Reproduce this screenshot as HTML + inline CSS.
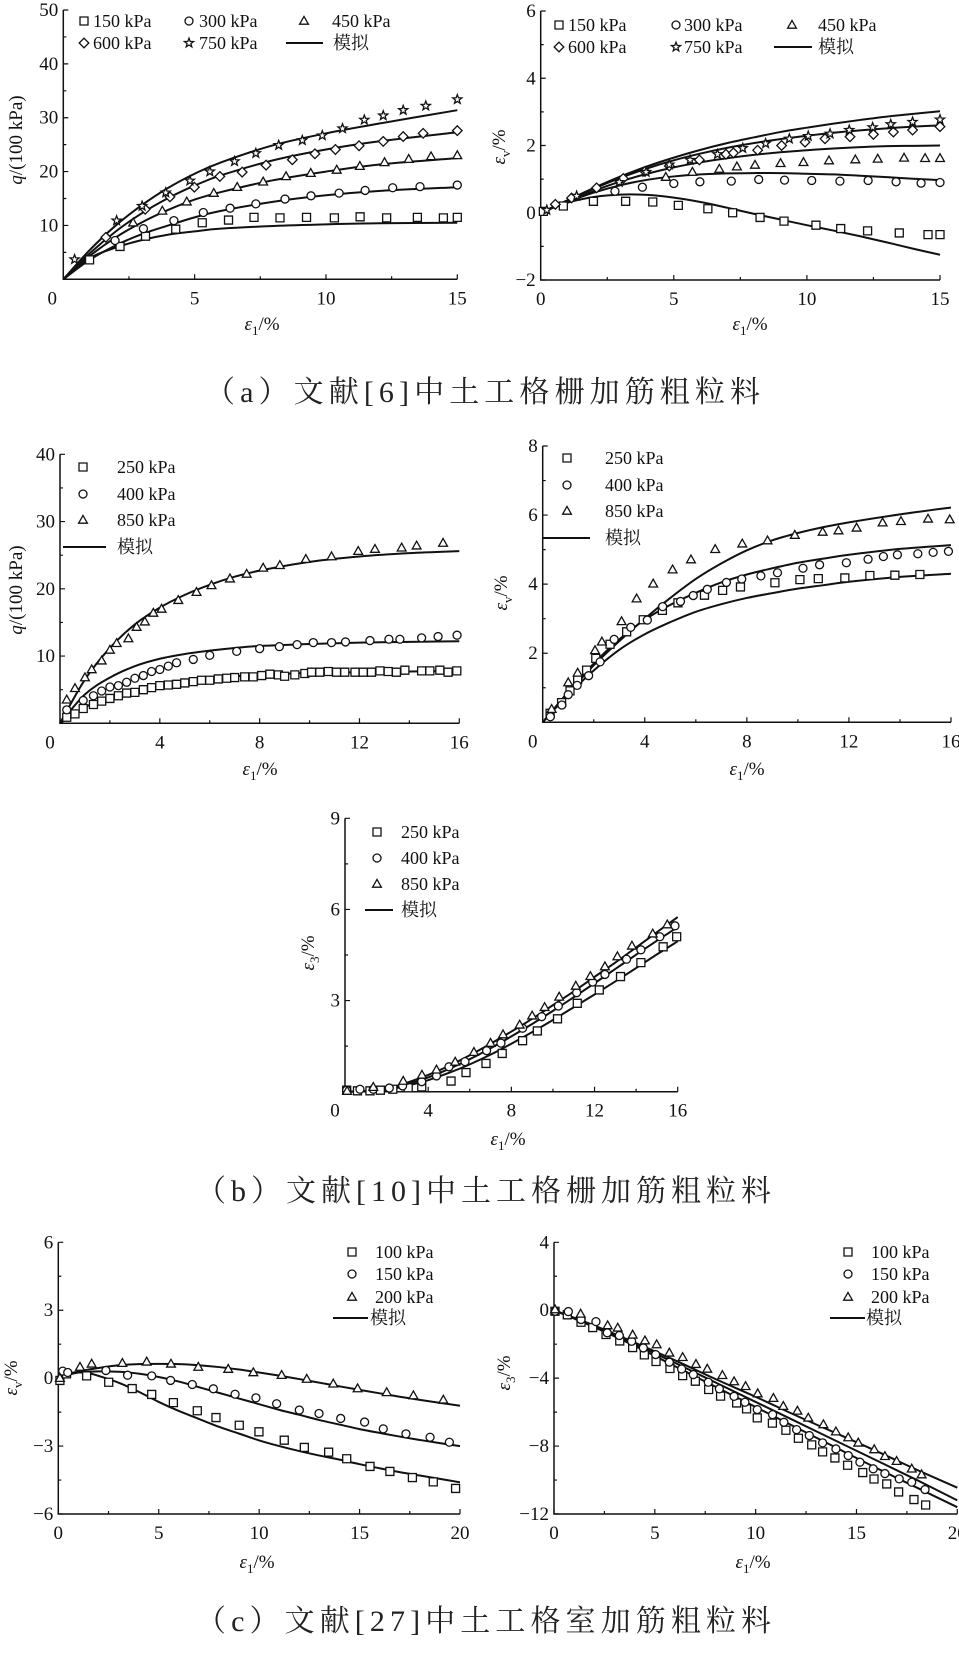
<!DOCTYPE html>
<html><head><meta charset="utf-8"><style>
html,body{margin:0;padding:0;background:#fff;}
svg{display:block;}
text{font-family:"Liberation Serif","Noto Serif CJK SC",serif;fill:#111;}
.cap{font-family:"Liberation Serif","Noto Serif CJK SC",serif;font-size:30px;fill:#222;}
</style></head><body>
<svg id="fig" width="959" height="1668" viewBox="0 0 959 1668" xmlns="http://www.w3.org/2000/svg">
<text class="cap" x="205" y="402" textLength="555" lengthAdjust="spacing">（a）文献[6]中土工格栅加筋粗粒料</text>
<text class="cap" x="196" y="1201" textLength="575" lengthAdjust="spacing">（b）文献[10]中土工格栅加筋粗粒料</text>
<text class="cap" x="196" y="1631" textLength="575" lengthAdjust="spacing">（c）文献[27]中土工格室加筋粗粒料</text>
</svg>
<script>
// ---------- Chart a1: q vs e1 ----------
const a1Cats = ["150 kPa","300 kPa","450 kPa","600 kPa","750 kPa"];
const a1X150 = [1.0,2.16,3.13,4.28,5.29,6.29,7.26,8.25,9.26,10.32,11.3,12.31,13.48,14.47,15.0];
const a1Y150 = [3.6,6.1,8.0,9.3,10.5,11.0,11.5,11.4,11.5,11.4,11.6,11.4,11.5,11.4,11.5];
const a1X300 = [1.97,3.05,4.21,5.33,6.35,7.33,8.44,9.43,10.5,11.49,12.54,13.58,15];
const a1Y300 = [7.2,9.4,10.9,12.4,13.2,14.0,14.9,15.5,16.0,16.5,17.0,17.2,17.5];
const a1X450 = [2.66,3.77,4.7,5.73,6.62,7.61,8.48,9.42,10.41,11.29,12.23,13.15,14.0,15];
const a1Y450 = [10.5,12.7,14.4,16.0,17.1,18.1,19.1,19.7,20.3,21.0,21.7,22.3,22.8,23.0];
const a1X600 = [1.62,3.12,4.06,4.99,5.96,6.81,7.72,8.72,9.58,10.36,11.26,12.18,12.94,13.7,15];
const a1Y600 = [7.8,13.0,15.3,17.1,19.1,19.9,21.2,22.2,23.3,24.1,24.8,25.6,26.5,27.1,27.6];
const a1X750 = [0.43,2.03,3.0,3.9,4.82,5.58,6.52,7.33,8.2,9.1,9.86,10.63,11.46,12.18,12.94,13.8,15];
const a1Y750 = [3.7,10.9,13.6,16.1,18.3,20.0,21.9,23.4,24.9,25.8,26.7,28.0,29.6,30.4,31.4,32.2,33.4];
const a1SimX = [0,1,2,3,4,5,6,8,10,12,15];
const a1S150 = [0,3.9,5.9,7.3,8.3,8.9,9.4,9.9,10.2,10.4,10.5];
const a1S300 = [0,3.6,6.3,8.4,10.0,11.5,12.7,14.4,15.6,16.4,17.1];
const a1S450 = [0,4.3,7.8,10.6,12.9,14.8,16.2,18.4,20.0,21.3,22.5];
const a1S600 = [0,4.8,8.9,12.3,15.1,17.4,19.3,22.1,24.1,25.6,27.3];
const a1S750 = [0,5.4,10.0,13.8,17.0,19.6,21.7,24.9,27.1,28.9,31.4];
const a1XTicks = [0,5,10,15];
const a1YTicks = [10,20,30,40,50];

// ---------- Chart a2: ev vs e1 ----------
const a2X150 = [0.1,0.85,1.98,3.19,4.21,5.17,6.28,7.21,8.24,9.14,10.34,11.27,12.28,13.47,14.55,15];
const a2Y150 = [0.04,0.2,0.34,0.34,0.32,0.22,0.12,0,-0.14,-0.25,-0.37,-0.47,-0.54,-0.6,-0.65,-0.65];
const a2X300 = [2.79,3.82,5.0,5.98,7.16,8.19,9.16,10.18,11.24,12.3,13.35,14.29,15];
const a2Y300 = [0.64,0.76,0.87,0.92,0.94,0.99,0.97,0.96,0.94,0.96,0.92,0.88,0.9];
const a2X450 = [4.7,5.7,6.71,7.37,8.05,9.01,9.87,10.83,11.82,12.66,13.65,14.44,15];
const a2Y450 = [1.06,1.21,1.3,1.37,1.42,1.47,1.5,1.55,1.58,1.6,1.63,1.62,1.62];
const a2X600 = [0.55,1.16,2.1,3.1,3.92,4.83,5.96,6.96,7.24,8.15,9.05,9.93,10.68,11.62,12.5,13.25,13.97,15];
const a2Y600 = [0.25,0.44,0.74,1.02,1.23,1.39,1.57,1.74,1.78,1.86,2.0,2.1,2.2,2.26,2.33,2.4,2.46,2.56];
const a2X750 = [0.23,1.35,2.95,3.96,4.83,5.61,6.64,7.59,8.45,9.34,10.05,10.87,11.59,12.47,13.15,13.97,15];
const a2Y750 = [0.08,0.5,0.91,1.21,1.43,1.57,1.74,1.92,2.06,2.2,2.28,2.35,2.46,2.54,2.63,2.7,2.77];
const a2SimX = [0,1,2,3,4,5,6,7,8,9,10,11,12,13,14,15];
const a2S150 = [0,0.3,0.47,0.54,0.53,0.45,0.32,0.15,-0.03,-0.2,-0.37,-0.53,-0.7,-0.88,-1.07,-1.25];
const a2S300 = [0,0.32,0.6,0.82,0.98,1.08,1.14,1.17,1.18,1.18,1.16,1.14,1.1,1.06,1.01,0.97];
const a2S450 = [0,0.33,0.65,0.93,1.16,1.35,1.5,1.62,1.72,1.8,1.86,1.91,1.95,1.98,1.99,2.0];
const a2S600 = [0,0.36,0.72,1.04,1.32,1.56,1.76,1.93,2.07,2.19,2.29,2.38,2.45,2.51,2.56,2.6];
const a2S750 = [0,0.37,0.74,1.08,1.38,1.64,1.87,2.07,2.24,2.4,2.53,2.65,2.76,2.86,2.94,3.02];
const a2XTicks = [0,5,10,15];
const a2YTicks = [-2,0,2,4,6];

// ---------- Chart b1: q vs e1 ----------
const bCats = ["250 kPa","400 kPa","850 kPa"];
const b1X250 = [0.27,0.6,0.93,1.34,1.67,2.0,2.34,2.67,3.0,3.34,3.67,4.0,4.34,4.67,5.0,5.34,5.67,6.0,6.34,6.68,7.0,7.4,7.74,8.08,8.41,8.75,9.0,9.41,9.81,10.08,10.41,10.75,11.08,11.41,11.82,12.15,12.48,12.82,13.15,13.48,13.82,14.49,14.82,15.22,15.55,15.9];
const b1Y250 = [0.9,1.4,2.2,2.8,3.3,3.7,4.1,4.5,4.6,5.0,5.3,5.6,5.7,5.8,6.0,6.2,6.4,6.4,6.6,6.7,6.8,6.9,6.9,7.1,7.3,7.2,7.0,7.2,7.4,7.6,7.6,7.7,7.6,7.6,7.6,7.6,7.6,7.8,7.7,7.6,7.9,7.8,7.8,7.9,7.6,7.8];
const b1X400 = [0.27,0.93,1.34,1.67,2.0,2.34,2.67,3.0,3.34,3.67,4.0,4.34,4.67,5.34,6.0,7.08,8.0,8.79,9.5,10.15,10.88,11.44,12.42,13.18,13.62,14.49,15.15,15.91];
const b1Y400 = [2.0,3.4,4.1,4.8,5.4,5.6,6.1,6.7,7.1,7.7,8.0,8.5,9.0,9.5,10.1,10.7,11.1,11.4,11.7,12.0,12.0,12.1,12.3,12.5,12.5,12.7,12.9,13.1];
const b1X850 = [0.27,0.6,1.0,1.27,1.67,2.0,2.27,2.74,3.07,3.4,3.74,4.07,4.74,5.47,6.07,6.81,7.48,8.14,8.81,9.85,10.88,11.95,12.62,13.69,14.29,15.35];
const b1Y850 = [3.5,5.2,6.8,8.0,9.3,10.9,11.9,12.6,14.3,15.1,16.4,17.0,18.3,19.5,20.5,21.5,22.2,23.1,23.5,24.4,24.8,25.6,25.9,26.1,26.4,26.8];
const b1SimX = [0,1,2,3,4,5,6,7,8,10,12,14,16];
const b1S250 = [0,2.4,3.9,5.0,5.8,6.3,6.7,7.0,7.2,7.5,7.6,7.7,7.8];
const b1S400 = [0,4.3,6.8,8.5,9.6,10.3,10.8,11.2,11.5,11.8,12.0,12.1,12.2];
const b1S850 = [0,6.5,11.2,14.7,17.2,19.1,20.6,21.8,22.7,24.0,24.8,25.3,25.6];
const b1XTicks = [0,4,8,12,16];
const b1YTicks = [10,20,30,40];

// ---------- Chart b2: ev vs e1 ----------
const b2X250 = [0.29,0.74,1.07,1.37,1.72,2.08,2.64,3.29,3.94,4.69,5.3,6.34,7.05,7.75,9.1,10.08,10.8,11.84,12.82,13.8,14.78];
const b2Y250 = [0.26,0.57,0.91,1.24,1.51,1.85,2.26,2.62,2.97,3.24,3.46,3.68,3.82,3.92,4.04,4.13,4.16,4.18,4.25,4.26,4.28];
const b2X400 = [0.3,0.75,1.0,1.35,1.8,2.25,2.8,3.45,4.1,4.7,5.4,5.9,6.45,7.2,7.8,8.55,9.2,10.2,10.85,11.9,12.75,13.35,13.9,14.7,15.3,15.9];
const b2Y400 = [0.16,0.5,0.8,1.07,1.35,1.75,2.4,2.75,2.96,3.35,3.5,3.67,3.85,4.05,4.15,4.24,4.33,4.46,4.56,4.62,4.72,4.8,4.85,4.88,4.92,4.95];
const b2X850 = [0.35,1.0,1.37,2.05,2.32,3.09,3.68,4.33,5.09,5.81,6.76,7.82,8.81,9.88,10.97,11.59,12.3,13.32,14.04,15.1,15.95];
const b2Y850 = [0.38,1.15,1.43,2.08,2.33,2.92,3.58,4.01,4.42,4.71,5.01,5.17,5.26,5.42,5.51,5.55,5.63,5.78,5.82,5.89,5.87];
const b2SimX = [0,1,2,3,4,5,6,7,8,9,10,11,12,14,16];
const b2S250 = [0,0.8,1.5,2.1,2.55,2.9,3.2,3.42,3.6,3.74,3.87,3.97,4.07,4.21,4.3];
const b2S400 = [0,0.88,1.7,2.4,2.97,3.4,3.75,4.05,4.28,4.46,4.62,4.74,4.85,5.02,5.13];
const b2S850 = [0,0.85,1.65,2.35,3.0,3.6,4.15,4.6,4.98,5.27,5.48,5.65,5.79,6.02,6.22];
const b2XTicks = [0,4,8,12,16];
const b2YTicks = [2,4,6,8];

// ---------- Chart b3: e3 vs e1 ----------
const b3X250 = [0.08,0.6,1.2,1.7,2.3,3.04,3.69,5.1,5.82,6.78,7.56,8.54,9.25,10.22,11.17,12.23,13.25,14.23,15.3,15.95];
const b3Y250 = [0.05,0.03,0.03,0.05,0.08,0.13,0.16,0.35,0.63,0.93,1.26,1.68,2.0,2.4,2.91,3.35,3.79,4.25,4.77,5.1];
const b3X400 = [0.08,0.72,1.36,2.13,2.77,3.69,4.4,5.0,5.77,6.81,7.5,8.54,9.46,10.26,11.14,11.91,12.5,13.54,14.23,15.14,15.87];
const b3Y400 = [0.05,0.08,0.08,0.12,0.19,0.33,0.52,0.82,0.99,1.35,1.6,2.09,2.47,2.82,3.26,3.61,3.86,4.36,4.67,5.1,5.46];
const b3X850 = [0.1,1.36,2.8,3.7,4.4,5.3,6.2,7.0,7.6,8.4,9.0,9.6,10.3,11.1,11.8,12.5,13.1,13.8,14.8,15.5];
const b3Y850 = [0.02,0.15,0.35,0.55,0.72,0.98,1.3,1.6,1.88,2.2,2.5,2.78,3.12,3.48,3.8,4.12,4.45,4.8,5.2,5.5];
const b3SimX = [0,1,2,3,4,5,6,7,8,9,10,11,12,13,14,15,16];
const b3S250 = [0,0.02,0.06,0.2,0.38,0.62,0.9,1.22,1.58,1.96,2.36,2.78,3.2,3.63,4.07,4.52,4.95];
const b3S400 = [0,0.02,0.08,0.25,0.47,0.75,1.07,1.43,1.82,2.23,2.66,3.11,3.57,4.04,4.51,4.97,5.42];
const b3S850 = [0,0.02,0.1,0.3,0.55,0.85,1.2,1.58,1.98,2.4,2.85,3.3,3.78,4.25,4.75,5.25,5.75];
const b3XTicks = [0,4,8,12,16];
const b3YTicks = [3,6,9];

// ---------- Chart c1: ev vs e1 ----------
const cCats = ["100 kPa","150 kPa","200 kPa"];
const c1X100 = [0.08,0.41,1.41,2.51,3.68,4.65,5.73,6.92,7.85,9.01,9.99,11.25,12.25,13.46,14.36,15.52,16.51,17.63,18.67,19.78];
const c1Y100 = [-0.1,0.19,0.1,-0.18,-0.46,-0.72,-1.08,-1.44,-1.74,-2.08,-2.37,-2.74,-3.06,-3.27,-3.56,-3.9,-4.12,-4.39,-4.58,-4.87];
const c1X150 = [0.22,0.47,2.37,3.45,4.65,5.59,6.67,7.72,8.8,9.84,10.87,12.0,12.98,14.06,15.25,16.18,17.31,18.51,19.47];
const c1Y150 = [0.31,0.25,0.34,0.13,0.1,-0.1,-0.28,-0.47,-0.71,-0.87,-1.13,-1.41,-1.56,-1.78,-1.94,-2.24,-2.46,-2.61,-2.83];
const c1X200 = [0.08,1.08,1.66,3.19,4.4,5.61,6.97,8.46,9.71,11.12,12.37,13.69,14.9,16.35,17.68,19.17];
const c1Y200 = [0,0.49,0.63,0.66,0.72,0.63,0.49,0.4,0.25,0.13,-0.04,-0.25,-0.46,-0.63,-0.77,-0.96];
const c1SimX = [0,0.5,1,1.5,2,3,4,5,6,7,8,9,10,11,12,13,14,15,16,17,18,19,20];
const c1S100 = [0,0.2,0.25,0.22,0.1,-0.2,-0.6,-1.05,-1.45,-1.8,-2.15,-2.45,-2.75,-3.0,-3.22,-3.42,-3.6,-3.8,-3.98,-4.15,-4.3,-4.45,-4.6];
const c1S150 = [0,0.15,0.25,0.28,0.3,0.28,0.2,0.05,-0.15,-0.4,-0.65,-0.9,-1.15,-1.4,-1.62,-1.85,-2.05,-2.25,-2.42,-2.58,-2.73,-2.87,-3.0];
const c1S200 = [0,0.17,0.3,0.38,0.45,0.57,0.62,0.63,0.62,0.57,0.49,0.38,0.25,0.11,-0.04,-0.2,-0.36,-0.52,-0.67,-0.82,-0.96,-1.09,-1.22];
const c1XTicks = [0,5,10,15,20];
const c1YTicks = [-6,-3,0,3,6];

// ---------- Chart c2: e3 vs e1 ----------
const c2X100 = [0.05,0.66,1.34,1.92,2.58,3.26,3.9,4.48,5.06,5.75,6.38,7.01,7.67,8.26,9.06,9.55,10.08,10.83,11.5,12.12,12.78,13.32,13.93,14.56,15.31,15.87,16.5,17.09,17.85,18.43];
const c2Y100 = [-0.06,-0.27,-0.71,-1.02,-1.43,-1.81,-2.2,-2.63,-3.02,-3.43,-3.85,-4.18,-4.67,-5.06,-5.46,-5.81,-6.34,-6.65,-7.07,-7.54,-7.93,-8.34,-8.7,-9.13,-9.56,-9.94,-10.23,-10.7,-11.15,-11.47];
const c2X150 = [0.05,0.71,1.34,2.08,2.64,3.24,3.85,4.43,5.04,5.72,6.33,6.91,7.65,8.2,8.93,9.47,10.08,10.84,11.4,12.03,12.66,13.32,13.98,14.59,15.17,15.83,16.41,17.12,17.74,18.4];
const c2Y150 = [-0.06,-0.08,-0.55,-0.67,-1.33,-1.49,-1.83,-2.22,-2.61,-3.06,-3.46,-3.79,-4.24,-4.63,-5.07,-5.42,-5.85,-6.15,-6.6,-7.03,-7.38,-7.81,-8.17,-8.56,-8.95,-9.34,-9.62,-9.93,-10.13,-10.56];
const c2X200 = [0.05,1.32,2.66,3.16,3.9,4.51,5.09,5.72,6.38,7.04,7.6,8.35,8.93,9.5,10.1,10.88,11.37,12.07,12.61,13.36,13.98,14.59,15.09,15.88,16.41,16.99,17.74,18.23];
const c2Y200 = [0.04,-0.22,-0.9,-1.04,-1.45,-1.79,-2.02,-2.51,-2.77,-3.18,-3.46,-3.83,-4.2,-4.48,-4.91,-5.18,-5.65,-5.93,-6.34,-6.73,-7.15,-7.5,-7.81,-8.2,-8.6,-8.89,-9.34,-9.68];
const c2SimX = [0,2,4,6,8,10,12,14,16,18,20];
const c2S100 = [0,-1.0,-2.1,-3.3,-4.5,-5.7,-6.9,-8.1,-9.3,-10.45,-11.6];
const c2S150 = [0,-0.95,-2.0,-3.1,-4.25,-5.4,-6.55,-7.7,-8.85,-10.0,-11.2];
const c2S200 = [0,-0.9,-1.9,-2.95,-4.05,-5.1,-6.2,-7.25,-8.3,-9.4,-10.45];
const c2XTicks = [0,5,10,15,20];
const c2YTicks = [-12,-8,-4,0,4];

const NS = "http://www.w3.org/2000/svg";
const svg = document.getElementById('fig');
function mk(tag, attrs, parent){
  const e = document.createElementNS(NS, tag);
  for (const k in attrs) e.setAttribute(k, attrs[k]);
  (parent||svg).appendChild(e);
  return e;
}
function fmt(v){ return v<0 ? '\u2212'+Math.abs(v) : String(v); }

function markerPath(shape, cx, cy, s){
  const r = s/2;
  if (shape==='square') return `M${cx-r},${cy-r}h${s}v${s}h${-s}Z`;
  if (shape==='triangle') return `M${cx},${cy-r*1.15}L${cx+r*1.1},${cy+r*0.8}L${cx-r*1.1},${cy+r*0.8}Z`;
  if (shape==='diamond') return `M${cx},${cy-r*1.2}L${cx+r*1.2},${cy}L${cx},${cy+r*1.2}L${cx-r*1.2},${cy}Z`;
  if (shape==='star'){
    let d=''; for(let i=0;i<10;i++){const a=-Math.PI/2+i*Math.PI/5; const rr=i%2?r*0.5:r*1.2; d+=(i?'L':'M')+(cx+rr*Math.cos(a)).toFixed(2)+','+(cy+rr*Math.sin(a)).toFixed(2);} return d+'Z';
  }
  return null;
}
function drawMarker(g, shape, cx, cy, s){
  let el;
  if (shape==='circle') el = mk('circle',{cx:cx,cy:cy,r:s/2,fill:'#fff',stroke:'#111','stroke-width':1.3},g);
  else el = mk('path',{d:markerPath(shape,cx,cy,s),fill:'#fff',stroke:'#111','stroke-width':1.3},g);
  return el;
}
function smoothPath(pts){
  let d = `M${pts[0][0].toFixed(2)},${pts[0][1].toFixed(2)}`;
  for (let i=0;i<pts.length-1;i++){
    const p0=pts[i-1]||pts[i], p1=pts[i], p2=pts[i+1], p3=pts[i+2]||p2;
    const c1x=p1[0]+(p2[0]-p0[0])/6, c1y=p1[1]+(p2[1]-p0[1])/6;
    const c2x=p2[0]-(p3[0]-p1[0])/6, c2y=p2[1]-(p3[1]-p1[1])/6;
    d += `C${c1x.toFixed(2)},${c1y.toFixed(2)} ${c2x.toFixed(2)},${c2y.toFixed(2)} ${p2[0].toFixed(2)},${p2[1].toFixed(2)}`;
  }
  return d;
}

function chart(c){
  const g = mk('g',{});
  
  
  const X = v => c.x0 + (v-c.xmin)/(c.xmax-c.xmin)*(c.x1-c.x0);
  const Y = v => c.yb - (v-c.ymin)/(c.ymax-c.ymin)*(c.yb-c.yt);
  const ax = mk('path',{d:`M${c.x0},${c.yt}V${c.yb}H${c.x1}`,fill:'none',stroke:'#111','stroke-width':1.5},g);
  
  
  let td='';
  for (let v=c.xmin; v<=c.xmax+1e-9; v+=c.xminor){ const isMaj = c.xticks.some(t=>Math.abs(t-v)<1e-9); td+=`M${X(v).toFixed(2)},${c.yb}v${isMaj?-5:-3}`; }
  for (let v=c.ymin; v<=c.ymax+1e-9; v+=c.yminor){ const isMaj = c.yticks.some(t=>Math.abs(t-v)<1e-9); td+=`M${c.x0},${Y(v).toFixed(2)}h${isMaj?5:3}`; }
  mk('path',{d:td,fill:'none',stroke:'#111','stroke-width':1.2},g);
  c.xticks.forEach(v=>{
    const t = mk('text',{x:X(v)+(v===c.xmin?c.zeroOff:0),y:c.yb+25,'text-anchor':'middle','font-size':19},g);
    t.textContent = fmt(v);
    
    
  });
  c.yticks.forEach(v=>{
    const t = mk('text',{x:c.x0-5,y:Y(v)+6,'text-anchor':'end','font-size':19},g);
    t.textContent = fmt(v);
    
    
  });
  const xt = mk('text',{x:c.xtx,y:c.xty,'text-anchor':'middle','font-size':19},g);
  xt.innerHTML = '<tspan font-style="italic">ε</tspan><tspan font-size="13" dy="5">1</tspan><tspan dy="-5">/%</tspan>';
  
  
  const yt = mk('text',{x:0,y:0,'text-anchor':'middle','font-size':19,transform:`translate(${c.ytx},${c.yty}) rotate(-90)`},g);
  yt.innerHTML = c.ytitle;
  
  
  c.sims.forEach(s=>{
    const pts = s.x.map((v,i)=>[X(v),Y(s.y[i])]);
    const p = mk('path',{d:smoothPath(pts),fill:'none',stroke:'#111','stroke-width':2},g);
    
    
  });
  c.series.forEach(s=>{
    const sg = mk('g',{},g);
    
    
    s.x.forEach((v,i)=>{
      const m = drawMarker(sg, s.shape, X(v), Y(s.y[i]), c.ms);
      
      
    });
  });
  const lg = mk('g',{},g);
  
  
  c.legend.forEach(L=>{
    if (L.shape==='line'){
      mk('line',{x1:L.mx,x2:L.mx2,y1:L.y,y2:L.y,stroke:'#111','stroke-width':2},lg);
    } else {
      drawMarker(lg, L.shape, L.mx, L.y, 8);
    }
    const t = mk('text',{x:L.tx,y:L.y+6,'font-size':18},lg);
    t.textContent = L.label;
    
    
  });
}
const qTitle = '<tspan font-style="italic">q</tspan>/(100 kPa)';
const evTitle = '<tspan font-style="italic">ε</tspan><tspan font-size="13" dy="5">v</tspan><tspan dy="-5">/%</tspan>';
const e3Title = '<tspan font-style="italic">ε</tspan><tspan font-size="13" dy="5">3</tspan><tspan dy="-5">/%</tspan>';

chart({name:'chart-a1-q', x0:63.3,x1:457.3,yb:279.3,yt:10,xmin:0,xmax:15,ymin:0,ymax:50,xticks:a1XTicks,yticks:a1YTicks,xminor:2.5,yminor:5,zeroOff:-11,ms:8,
  xtx:262,xty:330,ytx:22,yty:140,ytitle:qTitle,
  sims:[{x:a1SimX,y:a1S150},{x:a1SimX,y:a1S300},{x:a1SimX,y:a1S450},{x:a1SimX,y:a1S600},{x:a1SimX,y:a1S750}],
  series:[{label:a1Cats[0],shape:'square',x:a1X150,y:a1Y150},{label:a1Cats[1],shape:'circle',x:a1X300,y:a1Y300},{label:a1Cats[2],shape:'triangle',x:a1X450,y:a1Y450},{label:a1Cats[3],shape:'diamond',x:a1X600,y:a1Y600},{label:a1Cats[4],shape:'star',x:a1X750,y:a1Y750}],
  legend:[{shape:'square',mx:84,tx:93,y:21,label:a1Cats[0]},{shape:'circle',mx:189,tx:199,y:21,label:a1Cats[1]},{shape:'triangle',mx:304,tx:332,y:21,label:a1Cats[2]},
          {shape:'diamond',mx:84,tx:93,y:43,label:a1Cats[3]},{shape:'star',mx:189,tx:199,y:43,label:a1Cats[4]},{shape:'line',mx:286,mx2:323,tx:333,y:43,label:'模拟'}]});

chart({name:'chart-a2-ev', x0:540.7,x1:940,yb:280,yt:11,xmin:0,xmax:15,ymin:-2,ymax:6,xticks:a2XTicks,yticks:a2YTicks,xminor:2.5,yminor:1,zeroOff:0,ms:8,
  xtx:750,xty:330,ytx:505,yty:147,ytitle:evTitle,
  sims:[{x:a2SimX,y:a2S150},{x:a2SimX,y:a2S300},{x:a2SimX,y:a2S450},{x:a2SimX,y:a2S600},{x:a2SimX,y:a2S750}],
  series:[{label:a1Cats[0],shape:'square',x:a2X150,y:a2Y150},{label:a1Cats[1],shape:'circle',x:a2X300,y:a2Y300},{label:a1Cats[2],shape:'triangle',x:a2X450,y:a2Y450},{label:a1Cats[3],shape:'diamond',x:a2X600,y:a2Y600},{label:a1Cats[4],shape:'star',x:a2X750,y:a2Y750}],
  legend:[{shape:'square',mx:559,tx:568,y:25,label:a1Cats[0]},{shape:'circle',mx:676,tx:684,y:25,label:a1Cats[1]},{shape:'triangle',mx:792,tx:818,y:25,label:a1Cats[2]},
          {shape:'diamond',mx:559,tx:568,y:47,label:a1Cats[3]},{shape:'star',mx:676,tx:684,y:47,label:a1Cats[4]},{shape:'line',mx:774,mx2:812,tx:818,y:47,label:'模拟'}]});

chart({name:'chart-b1-q', x0:60,x1:459.3,yb:723.3,yt:454.3,xmin:0,xmax:16,ymin:0,ymax:40,xticks:b1XTicks,yticks:b1YTicks,xminor:2,yminor:5,zeroOff:-10,ms:8,
  xtx:260,xty:775,ytx:22,yty:590,ytitle:qTitle,
  sims:[{x:b1SimX,y:b1S250},{x:b1SimX,y:b1S400},{x:b1SimX,y:b1S850}],
  series:[{label:bCats[0],shape:'square',x:b1X250,y:b1Y250},{label:bCats[1],shape:'circle',x:b1X400,y:b1Y400},{label:bCats[2],shape:'triangle',x:b1X850,y:b1Y850}],
  legend:[{shape:'square',mx:83,tx:117,y:467,label:bCats[0]},{shape:'circle',mx:83,tx:117,y:494,label:bCats[1]},{shape:'triangle',mx:83,tx:117,y:520,label:bCats[2]},{shape:'line',mx:63,mx2:106,tx:117,y:547,label:'模拟'}]});

chart({name:'chart-b2-ev', x0:542.7,x1:951,yb:722.3,yt:446,xmin:0,xmax:16,ymin:0,ymax:8,xticks:b2XTicks,yticks:b2YTicks,xminor:2,yminor:1,zeroOff:-10,ms:8,
  xtx:747,xty:775,ytx:507,yty:593,ytitle:evTitle,
  sims:[{x:b2SimX,y:b2S250},{x:b2SimX,y:b2S400},{x:b2SimX,y:b2S850}],
  series:[{label:bCats[0],shape:'square',x:b2X250,y:b2Y250},{label:bCats[1],shape:'circle',x:b2X400,y:b2Y400},{label:bCats[2],shape:'triangle',x:b2X850,y:b2Y850}],
  legend:[{shape:'square',mx:567,tx:605,y:458,label:bCats[0]},{shape:'circle',mx:567,tx:605,y:485,label:bCats[1]},{shape:'triangle',mx:567,tx:605,y:511,label:bCats[2]},{shape:'line',mx:543,mx2:590,tx:605,y:538,label:'模拟'}]});

chart({name:'chart-b3-e3', x0:345,x1:677.7,yb:1091.7,yt:818.3,xmin:0,xmax:16,ymin:0,ymax:9,xticks:b3XTicks,yticks:b3YTicks,xminor:2,yminor:1.5,zeroOff:-10,ms:8,
  xtx:508,xty:1145,ytx:314,yty:953,ytitle:e3Title,
  sims:[{x:b3SimX,y:b3S250},{x:b3SimX,y:b3S400},{x:b3SimX,y:b3S850}],
  series:[{label:bCats[0],shape:'square',x:b3X250,y:b3Y250},{label:bCats[1],shape:'circle',x:b3X400,y:b3Y400},{label:bCats[2],shape:'triangle',x:b3X850,y:b3Y850}],
  legend:[{shape:'square',mx:377,tx:401,y:832,label:bCats[0]},{shape:'circle',mx:377,tx:401,y:858,label:bCats[1]},{shape:'triangle',mx:377,tx:401,y:884,label:bCats[2]},{shape:'line',mx:365,mx2:393,tx:401,y:910,label:'模拟'}]});

chart({name:'chart-c1-ev', x0:58.3,x1:460,yb:1514,yt:1242.3,xmin:0,xmax:20,ymin:-6,ymax:6,xticks:c1XTicks,yticks:c1YTicks,xminor:2.5,yminor:1.5,zeroOff:0,ms:8,
  xtx:257,xty:1568,ytx:17,yty:1378,ytitle:evTitle,
  sims:[{x:c1SimX,y:c1S100},{x:c1SimX,y:c1S150},{x:c1SimX,y:c1S200}],
  series:[{label:cCats[0],shape:'square',x:c1X100,y:c1Y100},{label:cCats[1],shape:'circle',x:c1X150,y:c1Y150},{label:cCats[2],shape:'triangle',x:c1X200,y:c1Y200}],
  legend:[{shape:'square',mx:352,tx:375,y:1252,label:cCats[0]},{shape:'circle',mx:352,tx:375,y:1274,label:cCats[1]},{shape:'triangle',mx:352,tx:375,y:1297,label:cCats[2]},{shape:'line',mx:333,mx2:368,tx:370,y:1318,label:'模拟'}]});

chart({name:'chart-c2-e3', x0:554,x1:957.3,yb:1514,yt:1242.3,xmin:0,xmax:20,ymin:-12,ymax:4,xticks:c2XTicks,yticks:c2YTicks,xminor:2.5,yminor:2,zeroOff:0,ms:8,
  xtx:753,xty:1568,ytx:510,yty:1373,ytitle:e3Title,
  sims:[{x:c2SimX,y:c2S100},{x:c2SimX,y:c2S150},{x:c2SimX,y:c2S200}],
  series:[{label:cCats[0],shape:'square',x:c2X100,y:c2Y100},{label:cCats[1],shape:'circle',x:c2X150,y:c2Y150},{label:cCats[2],shape:'triangle',x:c2X200,y:c2Y200}],
  legend:[{shape:'square',mx:848,tx:871,y:1252,label:cCats[0]},{shape:'circle',mx:848,tx:871,y:1274,label:cCats[1]},{shape:'triangle',mx:848,tx:871,y:1297,label:cCats[2]},{shape:'line',mx:830,mx2:865,tx:866,y:1318,label:'模拟'}]});
</script>
</body></html>
